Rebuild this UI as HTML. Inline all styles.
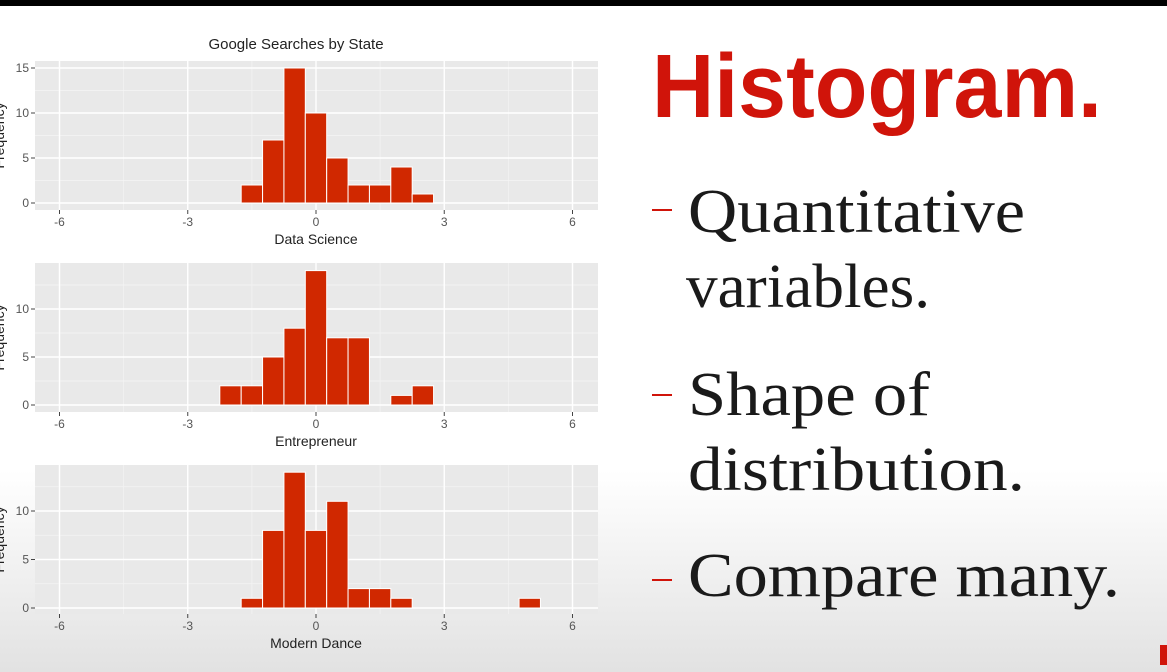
<!DOCTYPE html>
<html><head><meta charset="utf-8"><style>
html,body{margin:0;padding:0;}
body{width:1167px;height:672px;overflow:hidden;background:linear-gradient(#fff 0px,#fff 470px,#e2e2e2 672px);font-family:"Liberation Sans",sans-serif;}
svg{position:absolute;left:0;top:0;}
</style></head><body>
<svg id="s" width="1167" height="672">
<rect x="0" y="0" width="1167" height="6" fill="#000"/>
<text x="296" y="49" font-size="15" text-anchor="middle" fill="#222">Google Searches by State</text>
<g id="charts"></g>
<text x="652" y="117" font-size="90" font-weight="bold" fill="#d0140a" textLength="450" lengthAdjust="spacingAndGlyphs">Histogram.</text>
<g font-family="'Liberation Serif',serif" font-size="62" fill="#1a1a1a">
<rect x="652" y="209" width="20" height="2" fill="#d0140a"/>
<text x="688" y="232" textLength="337" lengthAdjust="spacingAndGlyphs">Quantitative</text>
<text x="686" y="307" textLength="244" lengthAdjust="spacingAndGlyphs">variables.</text>
<rect x="652" y="394" width="20" height="2" fill="#d0140a"/>
<text x="688" y="415" textLength="242" lengthAdjust="spacingAndGlyphs">Shape of</text>
<text x="688" y="490" textLength="337" lengthAdjust="spacingAndGlyphs">distribution.</text>
<rect x="652" y="579" width="20" height="2" fill="#d0140a"/>
<text x="688" y="596" textLength="432" lengthAdjust="spacingAndGlyphs">Compare many.</text>
</g>
<rect x="1160" y="645" width="7" height="20" fill="#d0140a"/>
</svg>
<script>
const binStart = [-1.75, -2.25, -1.75];
const binWidth = 0.5;
const dataScience = [2,7,15,10,5,2,2,4,1];
const entrepreneur = [2,2,5,8,14,7,7,0,1,2];
const modernDance = [1,8,14,8,11,2,2,1,0,0,0,0,0,1];
const panelNames = ["Data Science","Entrepreneur","Modern Dance"];
const xTicks = [-6,-3,0,3,6];
const yTicksP1 = [0,5,10,15];
const yTicksP23 = [0,5,10];

const NS="http://www.w3.org/2000/svg";
const g=document.getElementById('charts');
function mk(t,a,p){const e=document.createElementNS(NS,t);for(const k in a)e.setAttribute(k,a[k]);(p||g).appendChild(e);return e;}
const panels=[
 {top:61,bot:210,y0:203,ymax:15,ypx:135,series:dataScience,start:binStart[0],yt:yTicksP1,key:'data-science'},
 {top:263,bot:412,y0:405,ymax:10,ypx:96,series:entrepreneur,start:binStart[1],yt:yTicksP23,key:'entrepreneur'},
 {top:465,bot:614,y0:608,ymax:10,ypx:97,series:modernDance,start:binStart[2],yt:yTicksP23,key:'modern-dance'}
];
const L=35,R=598;
const xs=v=>316+v*42.75;
panels.forEach((p,i)=>{
 const ys=v=>p.y0-v*p.ypx/p.ymax;
 const pg=mk('g',{});
 
 
 mk('rect',{x:L,y:p.top,width:R-L,height:p.bot-p.top,fill:'#e9e9e9'},pg);
 for(let v=-4.5;v<=4.5;v+=3){mk('line',{x1:xs(v),x2:xs(v),y1:p.top,y2:p.bot,stroke:'#f4f4f4','stroke-width':0.7},pg);}
 for(let k=0;k<p.yt.length;k++){const v=p.yt[k]+2.5; if(ys(v)>p.top) mk('line',{x1:L,x2:R,y1:ys(v),y2:ys(v),stroke:'#f4f4f4','stroke-width':0.7},pg);}
 xTicks.forEach(t=>{
  mk('line',{x1:xs(t),x2:xs(t),y1:p.top,y2:p.bot,stroke:'#fff','stroke-width':1.4},pg);
  mk('line',{x1:xs(t),x2:xs(t),y1:p.bot,y2:p.bot+4,stroke:'#444'},pg);
  const tx=mk('text',{x:xs(t),y:p.bot+16,'font-size':12,'text-anchor':'middle',fill:'#555'},pg);tx.textContent=t;
  
  
 });
 p.yt.forEach(t=>{
  mk('line',{x1:L,x2:R,y1:ys(t),y2:ys(t),stroke:'#fff','stroke-width':1.4},pg);
  mk('line',{x1:L-4,x2:L,y1:ys(t),y2:ys(t),stroke:'#444'},pg);
  const tx=mk('text',{x:L-6,y:ys(t)+4,'font-size':12,'text-anchor':'end',fill:'#555'},pg);tx.textContent=t;
  
  
 });
 p.series.forEach((v,j)=>{
  if(!v)return;
  const x0=xs(p.start+j*binWidth),x1=xs(p.start+(j+1)*binWidth);
  const b=mk('rect',{x:x0,y:ys(v),width:x1-x0,height:ys(0)-ys(v),fill:'#d02800',stroke:'#fff','stroke-width':1},pg);
  
  
 });
 const xt=mk('text',{x:316,y:p.bot+34,'font-size':14,'text-anchor':'middle',fill:'#222'},pg);xt.textContent=panelNames[i];
 
 
 const cy=(p.top+p.bot)/2;
 const yt=mk('text',{x:4,y:cy,'font-size':14,'text-anchor':'middle',fill:'#222',transform:'rotate(-90 4 '+cy+')'},pg);yt.textContent='Frequency';
 
 
});
</script>
</body></html>
